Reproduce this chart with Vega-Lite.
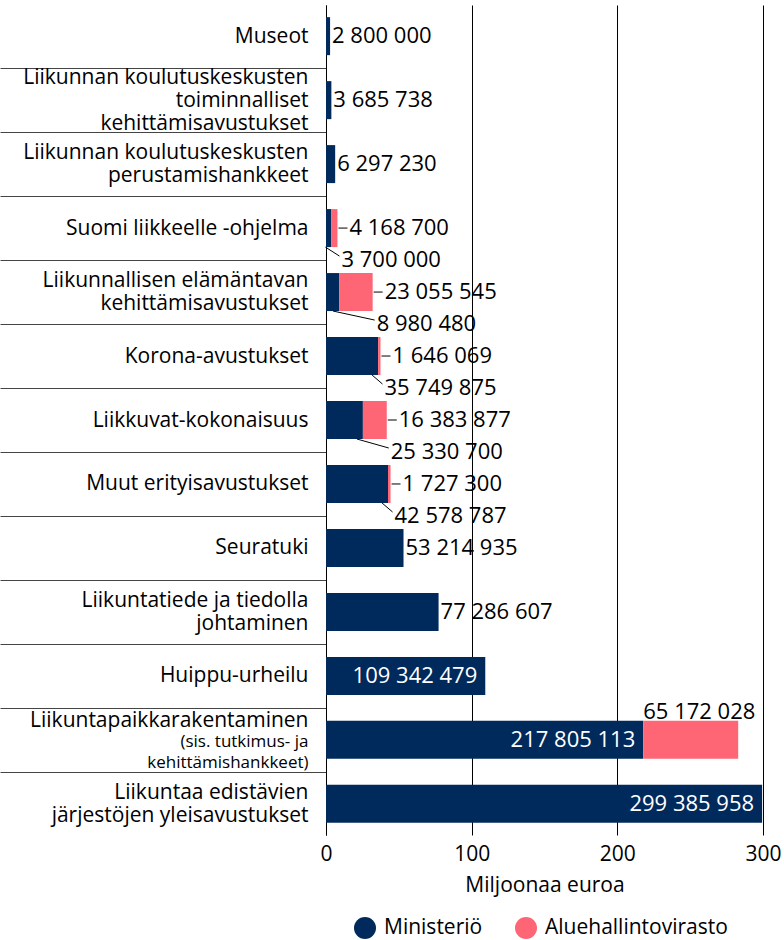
{
  "$schema": "https://vega.github.io/schema/vega-lite/v6.json",
  "width": 437,
  "height": 830,
  "autosize": {"type": "none"},
  "padding": {"left": 326, "top": 5, "right": 21, "bottom": 105},
  "config": {
    "font": "Open Sans",
    "view": {"stroke": null},
    "locale": {"number": {"decimal": ",", "thousands": " ", "grouping": [3], "currency": ["", " €"]}},
    "axis": {"labelColor": "#000", "titleColor": "#000", "labelFontSize": 21, "titleFontSize": 21, "titleFontWeight": "normal"},
    "legend": {"labelColor": "#000", "labelFontSize": 21, "labelLimit": 0},
    "text": {"fontSize": 22, "baseline": "middle", "color": "#000"}
  },
  "data": {
    "values": [
      {"category": "Museot", "source": "Ministeriö", "value": 2800000},
      {"category": "Liikunnan koulutuskeskusten|toiminnalliset|kehittämisavustukset", "source": "Ministeriö", "value": 3685738},
      {"category": "Liikunnan koulutuskeskusten|perustamishankkeet", "source": "Ministeriö", "value": 6297230},
      {"category": "Suomi liikkeelle -ohjelma", "source": "Ministeriö", "value": 3700000},
      {"category": "Suomi liikkeelle -ohjelma", "source": "Aluehallintovirasto", "value": 4168700},
      {"category": "Liikunnallisen elämäntavan|kehittämisavustukset", "source": "Ministeriö", "value": 8980480},
      {"category": "Liikunnallisen elämäntavan|kehittämisavustukset", "source": "Aluehallintovirasto", "value": 23055545},
      {"category": "Korona-avustukset", "source": "Ministeriö", "value": 35749875},
      {"category": "Korona-avustukset", "source": "Aluehallintovirasto", "value": 1646069},
      {"category": "Liikkuvat-kokonaisuus", "source": "Ministeriö", "value": 25330700},
      {"category": "Liikkuvat-kokonaisuus", "source": "Aluehallintovirasto", "value": 16383877},
      {"category": "Muut erityisavustukset", "source": "Ministeriö", "value": 42578787},
      {"category": "Muut erityisavustukset", "source": "Aluehallintovirasto", "value": 1727300},
      {"category": "Seuratuki", "source": "Ministeriö", "value": 53214935},
      {"category": "Liikuntatiede ja tiedolla|johtaminen", "source": "Ministeriö", "value": 77286607},
      {"category": "Huippu-urheilu", "source": "Ministeriö", "value": 109342479},
      {"category": "Liikuntapaikkarakentaminen|(sis. tutkimus- ja|kehittämishankkeet)", "source": "Ministeriö", "value": 217805113},
      {"category": "Liikuntapaikkarakentaminen|(sis. tutkimus- ja|kehittämishankkeet)", "source": "Aluehallintovirasto", "value": 65172028},
      {"category": "Liikuntaa edistävien|järjestöjen yleisavustukset", "source": "Ministeriö", "value": 299385958}
    ]
  },
  "transform": [
    {"stack": "value", "groupby": ["category"], "sort": [{"field": "source", "order": "descending"}], "as": ["x0", "x1"]},
    {"joinaggregate": [{"op": "sum", "field": "value", "as": "total"}, {"op": "count", "as": "n"}], "groupby": ["category"]}
  ],
  "layer": [
    {
      "mark": {"type": "bar"},
      "encoding": {
        "y": {
          "field": "category", "type": "nominal", "sort": null,
          "scale": {
            "domain": [
              "Museot",
              "Liikunnan koulutuskeskusten|toiminnalliset|kehittämisavustukset",
              "Liikunnan koulutuskeskusten|perustamishankkeet",
              "Suomi liikkeelle -ohjelma",
              "Liikunnallisen elämäntavan|kehittämisavustukset",
              "Korona-avustukset",
              "Liikkuvat-kokonaisuus",
              "Muut erityisavustukset",
              "Seuratuki",
              "Liikuntatiede ja tiedolla|johtaminen",
              "Huippu-urheilu",
              "Liikuntapaikkarakentaminen|(sis. tutkimus- ja|kehittämishankkeet)",
              "Liikuntaa edistävien|järjestöjen yleisavustukset"
            ],
            "paddingInner": 0.406, "paddingOuter": 0.19
          },
          "axis": {
            "orient": "left", "title": null,
            "domain": true, "domainColor": "#000", "domainWidth": 1,
            "ticks": true, "bandPosition": 1, "tickOffset": 13, "tickSize": 326,
            "tickColor": "#444", "tickWidth": 1,
            "tickOpacity": {"condition": {"test": "datum.index === 1", "value": 0}, "value": 1},
            "labelOffset": {
              "condition": [
                {"test": "indexof(datum.value, '(sis.') >= 0", "value": -32},
                {"test": "length(split(datum.value, '|')) === 3", "value": -36},
                {"test": "length(split(datum.value, '|')) === 2", "value": -24.5}
              ],
              "value": -13
            },
            "labelPadding": -308, "labelAlign": "right", "labelBaseline": "middle",
            "labelLineHeight": 23, "labelLimit": 0, "labelFontSize": 21,
            "labelExpr": "indexof(datum.value, '(sis.') >= 0 ? split(datum.value, '|')[0] : split(datum.value, '|')"
          }
        },
        "x": {
          "field": "x0", "type": "quantitative", "title": "Miljoonaa euroa",
          "scale": {"domain": [0, 300000000], "nice": false},
          "axis": {
            "values": [0, 100000000, 200000000, 300000000],
            "labelExpr": "format(datum.value / 1000000, 'd')",
            "domain": false, "ticks": false, "grid": true, "gridColor": "#000", "gridOpacity": 1, "gridWidth": 1,
            "labelPadding": 8, "labelFlush": false, "titlePadding": 10
          }
        },
        "x2": {"field": "x1"},
        "color": {
          "field": "source", "type": "nominal",
          "scale": {"domain": ["Ministeriö", "Aluehallintovirasto"], "range": ["#002a5c", "#ff6675"]},
          "legend": {
            "orient": "none", "legendX": 28, "legendY": 912, "direction": "horizontal", "title": null,
            "symbolType": "circle", "symbolSize": 484, "symbolStrokeWidth": 0, "symbolOpacity": 1,
            "labelOffset": 8, "columnPadding": 32, "padding": 0, "labelLimit": 0
          }
        }
      }
    },
    {
      "transform": [{"filter": "datum.source === 'Aluehallintovirasto' && datum.total < 100000000"}],
      "mark": {"type": "rule", "xOffset": 1, "x2Offset": 10, "color": "#000", "strokeWidth": 1},
      "encoding": {
        "y": {"field": "category", "type": "nominal", "axis": null},
        "x": {"field": "x1", "type": "quantitative", "title": "Miljoonaa euroa"},
        "x2": {"field": "x1"}
      }
    },
    {
      "transform": [{"filter": "datum.source === 'Ministeriö' && datum.n === 2 && datum.total < 100000000"}],
      "mark": {"type": "rule", "xOffset": -6, "x2Offset": 2, "yOffset": 19, "y2Offset": 28, "color": "#000", "strokeWidth": 1},
      "encoding": {
        "y": {"field": "category", "type": "nominal", "axis": null},
        "y2": {"field": "category"},
        "x": {"field": "x1", "type": "quantitative", "title": "Miljoonaa euroa"},
        "x2": {"field": "total"}
      }
    },
    {
      "transform": [{"filter": "datum.n === 1 && datum.value < 100000000"}],
      "mark": {"type": "text", "align": "left", "dx": 2},
      "encoding": {
        "y": {"field": "category", "type": "nominal", "axis": null},
        "x": {"field": "x1", "type": "quantitative", "title": "Miljoonaa euroa"},
        "text": {"field": "value", "type": "quantitative", "format": ",d"}
      }
    },
    {
      "transform": [{"filter": "datum.source === 'Ministeriö' && datum.value >= 100000000"}],
      "mark": {"type": "text", "align": "right", "dx": -8, "color": "#fff"},
      "encoding": {
        "y": {
          "field": "category", "type": "nominal",
          "axis": {
            "orient": "left", "title": null, "domain": false,
            "ticks": true, "bandPosition": 1, "tickOffset": 13, "tickSize": 326, "tickOpacity": 0,
            "labelOffset": -11, "labelPadding": -308, "labelAlign": "right", "labelBaseline": "middle",
            "labelLineHeight": 21, "labelLimit": 0, "labelFontSize": 17,
            "labelExpr": "indexof(datum.value, '(sis.') >= 0 ? [split(datum.value, '|')[1], split(datum.value, '|')[2]] : ''"
          }
        },
        "x": {"field": "x1", "type": "quantitative", "title": "Miljoonaa euroa"},
        "text": {"field": "value", "type": "quantitative", "format": ",d"}
      }
    },
    {
      "transform": [{"filter": "datum.source === 'Aluehallintovirasto' && datum.total < 100000000"}],
      "mark": {"type": "text", "align": "left", "dx": 12},
      "encoding": {
        "y": {"field": "category", "type": "nominal", "axis": null},
        "x": {"field": "x1", "type": "quantitative", "title": "Miljoonaa euroa"},
        "text": {"field": "value", "type": "quantitative", "format": ",d"}
      }
    },
    {
      "transform": [{"filter": "datum.source === 'Ministeriö' && datum.n === 2 && datum.total < 100000000"}],
      "mark": {"type": "text", "align": "left", "dx": 4, "dy": 32},
      "encoding": {
        "y": {"field": "category", "type": "nominal", "axis": null},
        "x": {"field": "total", "type": "quantitative", "title": "Miljoonaa euroa"},
        "text": {"field": "value", "type": "quantitative", "format": ",d"}
      }
    },
    {
      "transform": [{"filter": "datum.source === 'Aluehallintovirasto' && datum.total >= 100000000"}],
      "mark": {"type": "text", "align": "left", "dx": 0, "dy": -28},
      "encoding": {
        "y": {"field": "category", "type": "nominal", "axis": null},
        "x": {"field": "x0", "type": "quantitative", "title": "Miljoonaa euroa"},
        "text": {"field": "value", "type": "quantitative", "format": ",d"}
      }
    }
  ],
  "resolve": {"axis": {"y": "independent"}}
}
